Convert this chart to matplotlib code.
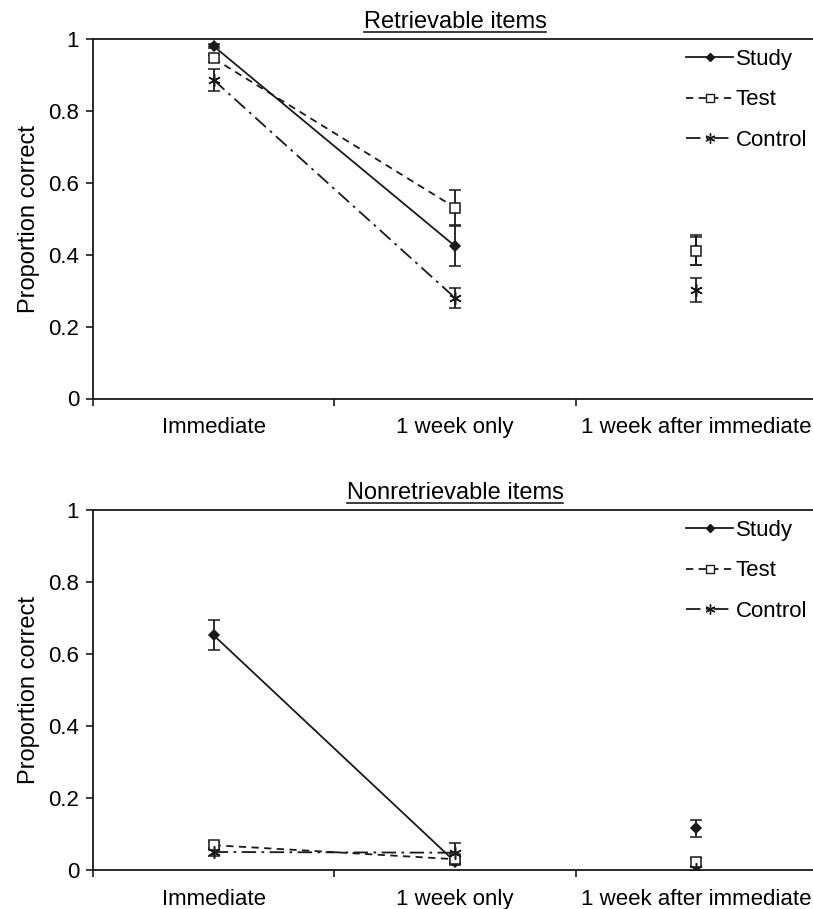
import numpy as np
import matplotlib
matplotlib.use('Agg')
import matplotlib.pyplot as plt
from matplotlib.lines import Line2D

plt.rcParams['font.family'] = ['Liberation Sans', 'DejaVu Sans']

# Conditions on the x axis
categories = ['Immediate', '1 week only', '1 week after immediate']

# Retrievable items (top panel)
ret_study = [0.980, 0.424, 0.413]
ret_study_err = [0.005, 0.055, 0.042]
ret_test = [0.946, 0.531, 0.410]
ret_test_err = [0.010, 0.048, 0.040]
ret_control = [0.886, 0.280, 0.302]
ret_control_err = [0.030, 0.028, 0.034]

# Nonretrievable items (bottom panel)
non_study = [0.652, 0.023, 0.116]
non_study_err = [0.042, 0.010, 0.023]
non_test = [0.069, 0.030, 0.022]
non_test_err = [0.010, 0.010, 0.010]
non_control = [0.050, 0.048, 0.003]
non_control_err = [0.010, 0.028, 0.005]

INK = '#1a1a1a'
W, H = 813, 909

series_style = {
    'Study': dict(marker='D', ms=5.5, mfc=INK, mec=INK, ls='-'),
    'Test': dict(marker='s', ms=6.5, mfc='white', mec=INK, ls=(0, (4, 3))),
    'Control': dict(marker=(6, 2, 0), ms=9, mfc=INK, mec=INK, ls=(0, (8, 3, 1.5, 3))),
}


def draw_panel(ax, title, data):
    x = np.arange(len(categories))
    for name, (vals, errs) in data.items():
        st = series_style[name]
        # connected part: Immediate -> 1 week only
        ax.errorbar(x[:2], vals[:2], yerr=errs[:2], color=INK, lw=1.3,
                    ls=st['ls'], marker=st['marker'], ms=st['ms'],
                    mfc=st['mfc'], mec=st['mec'], mew=1.1,
                    capsize=4, capthick=1.3, elinewidth=1.3, zorder=3)
        # separate point for the third condition
        ax.errorbar(x[2:], vals[2:], yerr=errs[2:], color=INK, ls='none',
                    marker=st['marker'], ms=st['ms'], mfc=st['mfc'],
                    mec=st['mec'], mew=1.1, capsize=4, capthick=1.3,
                    elinewidth=1.3, zorder=3)

    ax.set_xlim(-0.5, 2.5)
    ax.set_ylim(0, 1)
    ax.set_yticks([0, 0.2, 0.4, 0.6, 0.8, 1])
    ax.set_yticklabels(['0', '0.2', '0.4', '0.6', '0.8', '1'])
    ax.set_xticks(x)
    ax.set_xticklabels(categories)
    ax.set_xticks([-0.5, 0.5, 1.5, 2.5], minor=True)
    ax.tick_params(axis='x', which='major', length=0, pad=13.5, labelsize=16)
    ax.tick_params(axis='x', which='minor', length=5, width=1.2, direction='out', color=INK)
    ax.tick_params(axis='y', length=5, width=1.2, direction='out', labelsize=16, pad=5, color=INK)
    for sp in ax.spines.values():
        sp.set_linewidth(1.3)
        sp.set_color(INK)
    ax.set_ylabel('Proportion correct', fontsize=17, labelpad=6)

    legend_handles = [Line2D([], [], color=INK, lw=1.3, ls=series_style[n]['ls'],
                             marker=series_style[n]['marker'], ms=series_style[n]['ms'] * 0.8,
                             mfc=series_style[n]['mfc'], mec=series_style[n]['mec'])
                      for n in data]
    ax.legend(legend_handles, list(data), loc='upper right', frameon=False,
              fontsize=16, handlelength=2.1, handletextpad=0.12, labelspacing=0.88,
              bbox_to_anchor=(1.005, 1.01), borderaxespad=0.2)

    t = ax.set_title(title, fontsize=17, pad=8)
    return t


fig = plt.figure(figsize=(W / 100, H / 100), dpi=100)
left = 93 / W
width = 724 / W
ax_top = fig.add_axes([left, 1 - 398.5 / H, width, 359.5 / H])
ax_bot = fig.add_axes([left, 1 - 870 / H, width, 360 / H])

titles = []
titles.append(draw_panel(ax_top, 'Retrievable items', {
    'Study': (ret_study, ret_study_err),
    'Test': (ret_test, ret_test_err),
    'Control': (ret_control, ret_control_err),
}))
titles.append(draw_panel(ax_bot, 'Nonretrievable items', {
    'Study': (non_study, non_study_err),
    'Test': (non_test, non_test_err),
    'Control': (non_control, non_control_err),
}))

# underline the panel titles
fig.canvas.draw()
renderer = fig.canvas.get_renderer()
for t in titles:
    bb = t.get_window_extent(renderer)
    y = (bb.y0 + 1) / H
    fig.add_artist(Line2D([bb.x0 / W, bb.x1 / W], [y, y], color=INK, lw=1.2))

fig.savefig('out.png', dpi=100)
